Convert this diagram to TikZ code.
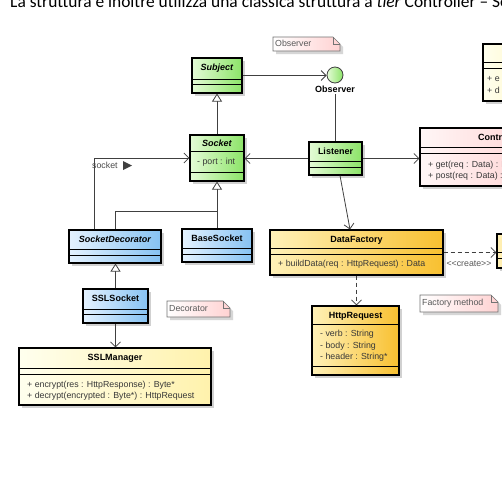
\documentclass[tikz,border=0pt]{standalone}
\usepackage{fontspec}
\setmainfont{Liberation Sans}
\newfontfamily\introfont{Carlito}
\usetikzlibrary{arrows.meta,shadows}
\definecolor{gL}{HTML}{E4FBD6}
\definecolor{gR}{HTML}{8CE468}
\definecolor{bL}{HTML}{E4F2FF}
\definecolor{bR}{HTML}{86C2F2}
\definecolor{oL}{HTML}{FFF1B8}
\definecolor{oR}{HTML}{F8C030}
\definecolor{yL}{HTML}{FFFFEE}
\definecolor{yR}{HTML}{FFF2AC}
\definecolor{pL}{HTML}{FFF6F6}
\definecolor{pR}{HTML}{FFCACA}
\definecolor{nR}{HTML}{FFD2D2}
\tikzset{
 cls/.style={draw=black,line width=1.1pt,inner sep=0pt,
   drop shadow={shadow xshift=3pt,shadow yshift=-3pt,fill=black!18,opacity=1}},
 gfill/.style={left color=gL,right color=gR},
 bfill/.style={left color=bL,right color=bR},
 ofill/.style={left color=oL,right color=oR},
 yfill/.style={left color=yL,right color=yR},
 pfill/.style={left color=pL,right color=pR},
 ttl/.style={font=\fontsize{9}{11}\selectfont\bfseries,inner sep=0pt,text height=6.5pt,text depth=1.9pt},
 attr/.style={font=\fontsize{8.8}{10.5}\selectfont,text=black!78,inner sep=0pt,anchor=west,text height=6.5pt,text depth=1.9pt},
 notetxt/.style={font=\fontsize{8.8}{10.5}\selectfont,text=black!65,inner sep=0pt,anchor=west,text height=6.5pt,text depth=1.9pt},
 notebd/.style={draw=black!55,line width=0.6pt},
 sepline/.style={line width=0.6pt},
 conn/.style={draw=black!75,line width=0.8pt},
 assoc/.style={conn,-{Straight Barb[length=5pt,width=10pt,line width=0.8pt]}},
 dep/.style={assoc,dash pattern=on 4pt off 3pt},
 gen/.style={conn,-{Triangle[open,length=8pt,width=10pt,fill=white,line width=0.8pt]}},
}
\newcommand{\umlclass}[6]{%
 \pgfmathsetmacro\clsW{#4-#2}\pgfmathsetmacro\clsH{#5-#3}%
 \pgfmathsetmacro\clsX{(#2+#4)/2}\pgfmathsetmacro\clsY{(#3+#5)/2}%
 \node[cls,#6,minimum width=\clsW pt,minimum height=\clsH pt] (#1) at (\clsX,\clsY) {};}
\newcommand{\compline}[3]{\draw[sepline] (#1,#3) -- (#2,#3);}
\newcommand{\umlnote}[6]{%
 \fill[black!16,xshift=3pt,yshift=-3pt] (#2,#3) -- (#4-7,#3) -- (#4,#3+7) -- (#4,#5) -- (#2,#5) -- cycle;
 \draw[notebd,left color=white,right color=nR] (#2,#3) -- (#4-7,#3) -- (#4,#3+7) -- (#4,#5) -- (#2,#5) -- cycle;
 \draw[notebd] (#4-7,#3) -- (#4-7,#3+7) -- (#4,#3+7);
 \node[notetxt] (#1) at (#2+2,{(#3+#5)/2}) {#6};}
\begin{document}
\begin{tikzpicture}[x=1pt,y=-1pt]
\useasboundingbox (0,0) rectangle (502,496);
\clip (0,0) rectangle (502,496);
\fill[white] (0,0) rectangle (502,496);
% intro text
\node[anchor=base west,inner sep=0pt,font=\introfont\fontsize{17.4}{19}\selectfont] (intro) at (10,7)
 {La struttura è inoltre utilizza una classica struttura a \textit{tier} Controller – Service};
% notes
\umlnote{nobs}{273}{37}{340}{51}{Observer}
\umlnote{ndec}{167}{301}{230}{317}{Decorator}
\umlnote{nfac}{420}{295}{498}{312}{Factory method}
% classes
\umlclass{subject}{192}{58}{242}{93}{gfill}
\compline{192}{242}{79}\compline{192}{242}{84}
\node[ttl] (subjectT) at (217,68.5) {\textit{Subject}};

\umlclass{socket}{190}{135}{244}{181}{gfill}
\compline{190}{244}{151}\compline{190}{244}{172}
\node[ttl] (socketT) at (217,144) {\textit{Socket}};
\node[attr] (socketA) at (197,162) {- port : int};

\umlclass{listener}{309}{142}{362}{175}{gfill}
\compline{309}{362}{161}\compline{309}{362}{167}
\node[ttl] (listenerT) at (335.5,152) {Listener};

\umlclass{controller}{420}{128}{570}{186}{pfill}
\compline{420}{570}{147}\compline{420}{570}{153}
\node[ttl,anchor=west] (controllerT) at (478,138) {Controller};
\node[attr] (controllerA) at (428,165) {+ get(req : Data) : HttpResponse};
\node[attr] (controllerB) at (428,176) {+ post(req : Data) : HttpResponse};

\umlclass{topright}{483}{44}{570}{101}{yfill}
\compline{483}{570}{62}\compline{483}{570}{68}
\node[attr] (toprightA) at (487,79) {+ e};
\node[attr] (toprightB) at (487,91) {+ d};

\umlclass{datafactory}{270}{230}{443}{275}{ofill}
\compline{270}{443}{248}\compline{270}{443}{254}
\node[ttl] (datafactoryT) at (356.5,240) {DataFactory};
\node[attr] (datafactoryA) at (278,264) {+ buildData(req : HttpRequest) : Data};

\umlclass{rbox}{497}{234}{570}{268}{ofill}
\compline{497}{570}{252}\compline{497}{570}{258}

\umlclass{httpreq}{312}{306}{399}{375}{ofill}
\compline{312}{399}{324}\compline{312}{399}{366}
\node[ttl] (httpreqT) at (355.5,316) {HttpRequest};
\node[attr] (httpreqA) at (320,334.5) {- verb : String};
\node[attr] (httpreqB) at (320,346) {- body : String};
\node[attr] (httpreqC) at (320,357.5) {- header : String*};

\umlclass{sockdec}{69}{230}{161}{263}{bfill}
\compline{69}{161}{249}\compline{69}{161}{255}
\node[ttl] (sockdecT) at (115,240) {\textit{SocketDecorator}};

\umlclass{basesocket}{182}{229}{252}{262}{bfill}
\compline{182}{252}{248}\compline{182}{252}{254}
\node[ttl] (basesocketT) at (217,239) {BaseSocket};

\umlclass{sslsocket}{83}{289}{148}{323}{bfill}
\compline{83}{148}{309}\compline{83}{148}{314}
\node[ttl] (sslsocketT) at (115.5,299) {SSLSocket};

\umlclass{sslmgr}{19}{348}{211}{405}{yfill}
\compline{19}{211}{368}\compline{19}{211}{374}
\node[ttl] (sslmgrT) at (115,358.5) {SSLManager};
\node[attr] (sslmgrA) at (27,385) {+ encrypt(res : HttpResponse) : Byte*};
\node[attr] (sslmgrB) at (27,396) {+ decrypt(encrypted : Byte*) : HttpRequest};

% interface circle
\node[circle,draw=black!75,line width=0.8pt,minimum size=16pt,inner sep=0pt,gfill] (obs) at (335,75) {};
\node[ttl] (obslbl) at (335,90) {Observer};

% connectors
\draw[assoc] (subject.east) -- (subject.east -| obs.west);
\draw[conn] (obslbl.south) -- (obslbl.south |- listener.north);
\draw[assoc] (listener.west) -- (listener.west -| socket.east);
\draw[assoc] (listener.east) -- (listener.east -| controller.west);
\draw[assoc] ([xshift=4.5pt]listener.south) -- ([xshift=-6.5pt]datafactory.north);
\draw[dep] (datafactory.east) -- (datafactory.east -| rbox.west);
\node[font=\fontsize{8.8}{10.5}\selectfont,text=black!65,inner sep=0pt] (create) at (469,264) {{<}{<}create{>}{>}};
\draw[dep] (datafactory.south) -- (datafactory.south |- httpreq.north);

\draw[gen] (subject.south |- socket.north) -- (subject.south);
\draw[gen] (basesocket.north) -- (basesocket.north |- socket.south);
\coordinate (join) at (217,211);
\draw[conn] (sockdec.north) |- (join);
\draw[assoc] ([xshift=-21pt]sockdec.north) |- (socket.west);
\node[notetxt,text=black!70] (socklbl) at (92,166) {socket};
\fill[black!75] (123,161) -- (132,165.5) -- (123,170) -- cycle;
\draw[gen] (sslsocket.north) -- (sslsocket.north |- sockdec.south);
\draw[assoc] (sslsocket.south) -- (sslsocket.south |- sslmgr.north);
\end{tikzpicture}
\end{document}
